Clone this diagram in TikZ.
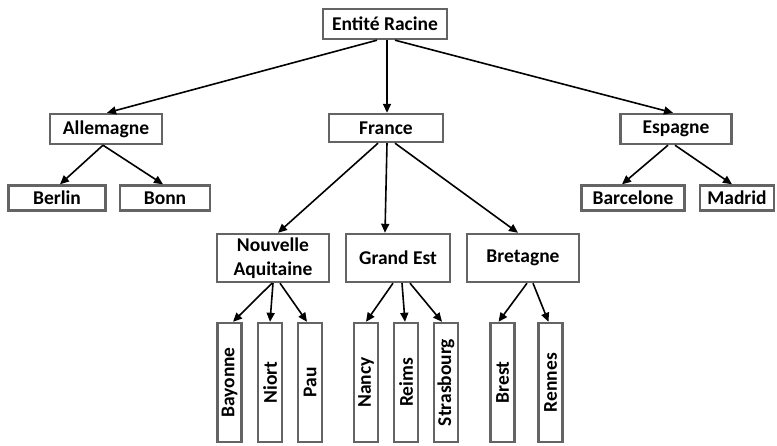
\documentclass[tikz,border=0pt]{standalone}
\usepackage{fontspec}
\setmainfont{Carlito}
\usepackage{tikz}
\usetikzlibrary{arrows.meta}

\definecolor{boxgray}{RGB}{100,100,100}

\begin{document}
\begin{tikzpicture}[x=1pt,y=-1pt,
  box/.style={draw=boxgray, line width=2.4pt, fill=white, inner sep=2pt,
    align=center, font=\bfseries\fontsize{19.5}{24}\selectfont},
  leaf/.style={box, minimum width=24pt, minimum height=119pt},
  arr/.style={line width=1.6pt, -{Triangle[length=9pt,width=8pt]}}]
  \useasboundingbox (0,0) rectangle (777,446);

  \node[box, minimum width=124pt, minimum height=30pt] (root) at (385,24) {Entité Racine};

  \node[box, minimum width=112pt, minimum height=30pt] (alle) at (106,129) {Allemagne};
  \node[box, minimum width=114pt, minimum height=28pt] (fran) at (386,128) {France};
  \node[box, minimum width=111pt, minimum height=30pt] (espa) at (676,129) {Espagne};

  \node[box, minimum width=97pt, minimum height=25pt] (berl) at (57,198) {Berlin};
  \node[box, minimum width=90pt, minimum height=25pt] (bonn) at (165,198) {Bonn};
  \node[box, minimum width=103pt, minimum height=25pt] (barc) at (633,198) {Barcelone};
  \node[box, minimum width=74pt, minimum height=25pt] (madr) at (737,198) {Madrid};

  \node[box, minimum width=112pt, minimum height=48pt] (nouv) at (273,258) {Nouvelle\\Aquitaine};
  \node[box, minimum width=104pt, minimum height=48pt] (gran) at (398,258) {Grand Est};
  \node[box, minimum width=112pt, minimum height=48pt] (bret) at (523,258) {Bretagne};

  \node[leaf] (bayo) at (229.5,382.5) {\rotatebox{90}{Bayonne}};
  \node[leaf] (nior) at (270,382.5) {\rotatebox{90}{Niort}};
  \node[leaf] (pau) at (310,382.5) {\rotatebox{90}{Pau}};
  \node[leaf] (nanc) at (366,382.5) {\rotatebox{90}{Nancy}};
  \node[leaf] (reim) at (406,382.5) {\rotatebox{90}{Reims}};
  \node[leaf] (stra) at (446,382.5) {\rotatebox{90}{Strasbourg}};
  \node[leaf] (bres) at (502.5,382.5) {\rotatebox{90}{Brest}};
  \node[leaf] (renn) at (550.5,382.5) {\rotatebox{90}{Rennes}};

  \path[arr]
    ([xshift=-8pt]root.south) edge ([xshift=1pt]alle.north)
    ([xshift=2pt]root.south) edge ([xshift=1pt]fran.north)
    ([xshift=10pt]root.south) edge ([xshift=-3pt]espa.north)
    ([xshift=-3pt]alle.south) edge ([xshift=3pt]berl.north)
    ([xshift=-3pt]alle.south) edge ([xshift=-2pt]bonn.north)
    ([xshift=-8pt]espa.south) edge ([xshift=-11pt]barc.north)
    ([xshift=-1pt]espa.south) edge ([xshift=-5pt]madr.north)
    ([xshift=-8pt]fran.south) edge ([xshift=5pt]nouv.north)
    ([xshift=1pt]fran.south) edge ([xshift=-13pt]gran.north)
    ([xshift=9pt]fran.south) edge ([xshift=-5pt]bret.north)
    ([xshift=-1pt]nouv.south) edge ([xshift=3.5pt]bayo.north)
    (nouv.south) edge (nior.north)
    ([xshift=7pt]nouv.south) edge ([xshift=-3pt]pau.north)
    ([xshift=-5pt]gran.south) edge (nanc.north)
    ([xshift=4pt]gran.south) edge ([xshift=-1pt]reim.north)
    ([xshift=12pt]gran.south) edge ([xshift=-4pt]stra.north)
    ([xshift=4pt]bret.south) edge ([xshift=-4pt]bres.north)
    ([xshift=10pt]bret.south) edge ([xshift=-2pt]renn.north);
\end{tikzpicture}
\end{document}
